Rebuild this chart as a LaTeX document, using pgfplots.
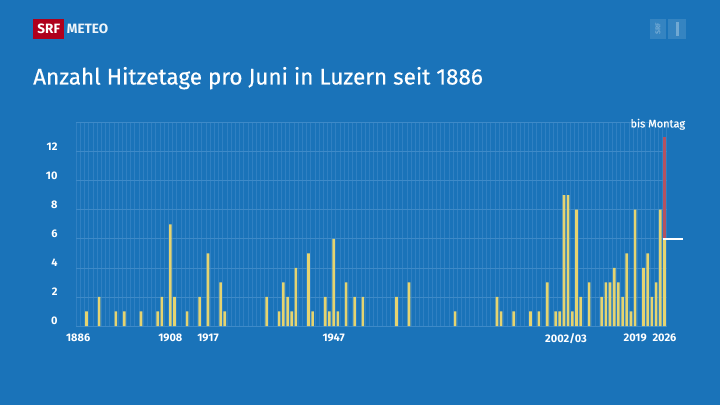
\documentclass[border=0pt]{standalone}
\usepackage{pgfplots}
\pgfplotsset{compat=1.18}
\usepackage{fontspec}
\setmainfont{Fira Sans}
\newfontfamily\titlefont[FakeBold=0.4]{Fira Sans}
\definecolor{srfblue}{RGB}{26,115,185}
\definecolor{gridc}{RGB}{62,138,200}
\definecolor{gridv}{RGB}{48,128,194}
\definecolor{baryellow}{RGB}{229,212,112}
\definecolor{redbar}{RGB}{181,82,96}
\definecolor{srfred}{RGB}{175,0,28}
\pgfplotstableread{
year val
1888 1
1891 2
1895 1
1897 1
1901 1
1905 1
1906 2
1908 7
1909 2
1912 1
1915 2
1917 5
1920 3
1921 1
1931 2
1934 1
1935 3
1936 2
1937 1
1938 4
1941 5
1942 1
1945 2
1946 1
1947 6
1948 1
1950 3
1952 2
1954 2
1962 2
1965 3
1976 1
1986 2
1987 1
1990 1
1994 1
1996 1
1998 3
2000 1
2001 1
2002 9
2003 9
2004 1
2005 8
2006 2
2008 3
2011 2
2012 3
2013 3
2014 4
2015 3
2016 2
2017 5
2018 1
2019 8
2021 4
2022 5
2023 2
2024 3
2025 8
2026 6
}\hitze
\begin{document}
\begin{tikzpicture}
\fill[srfblue] (0pt,0pt) rectangle (720pt,405pt);
% logo
\fill[srfred] (33.3pt,365.7pt) rectangle (64.3pt,386pt);
\node[anchor=center, text=white, font=\bfseries\fontsize{13.5}{13.5}\selectfont, inner sep=0] at (48.8pt,375.8pt) {SRF};
\node[anchor=west, text=white!92!srfblue, font=\bfseries\fontsize{13.5}{13.5}\selectfont, inner sep=0] at (66.7pt,375.8pt) {METEO};
% right logo
\fill[white, opacity=0.12] (650pt,366pt) rectangle (666pt,386pt);
\fill[white, opacity=0.12] (668pt,366pt) rectangle (686pt,386pt);
\node[rotate=90, text=white, opacity=0.3, font=\bfseries\fontsize{7}{7}\selectfont, inner sep=0] at (658pt,376pt) {SRF};
\fill[white, opacity=0.3] (675.5pt,369pt) rectangle (678.5pt,383pt);
% title
\node[anchor=base west, text=white, font=\titlefont\fontsize{22.5}{22.5}\selectfont, inner sep=0] at (33pt,320.5pt) {Anzahl Hitzetage pro Juni in Luzern seit 1886};
\begin{axis}[
  at={(76.07pt,79pt)}, anchor=south west,
  scale only axis, width=590.5pt, height=203.5pt,
  xmin=1885.5, xmax=2026.5, ymin=0, ymax=14,
  clip=false,
  axis line style={draw=none},
  major tick length=0, minor tick length=0,
  xtick={1886,1908,1917,1947,2002.5,2019,2026},
  xticklabels={1886,1908,1917,1947,2002/03,2019,2026},
  minor xtick={1885.5,1886.5,...,2026.5},
  ytick={0,2,...,14},
  yticklabels={0,2,4,6,8,10,12,{}},
  xmajorgrids=false, xminorgrids=true, ymajorgrids=true,
  minor grid style={draw=gridv, line width=0.5pt},
  major grid style={draw=gridc, line width=0.6pt},
  ticklabel style={text=white, font=\bfseries\fontsize{11}{11}\selectfont},
  yticklabel style={anchor=east, xshift=-15pt, yshift=5pt},
  xticklabel style={yshift=-4pt},
]
\addplot[ybar, bar width=2.6pt, fill=baryellow, draw=none] table[x=year, y=val] {\hitze};
\addplot[redbar, line width=2.6pt, line cap=butt] coordinates {(2026,6) (2026,13)};
\addplot[white, line width=1.6pt] coordinates {(2025.6,6) (2030.5,6)};
\end{axis}
\node[text=white, font=\titlefont\fontsize{11}{11}\selectfont, inner sep=0] at (657.8pt,280.7pt) {bis Montag};
\end{tikzpicture}
\end{document}
